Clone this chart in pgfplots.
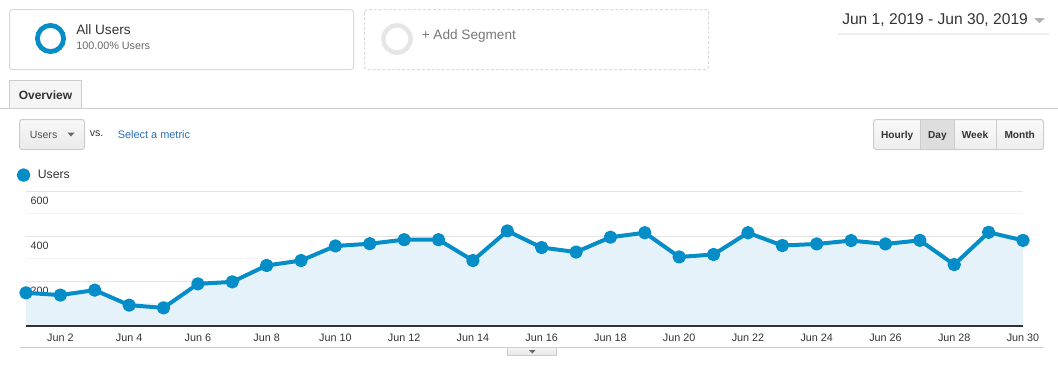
\documentclass[border=0pt]{standalone}
\usepackage{fontspec}
\setmainfont{Liberation Sans}
\usepackage{pgfplots}
\usepackage{pgfplotstable}
\pgfplotsset{compat=1.18}
\definecolor{gablue}{HTML}{058DC7}
\definecolor{gafill}{HTML}{E6F2F9}
\definecolor{gridmajor}{HTML}{E3E3E3}
\definecolor{gridminor}{HTML}{F3F3F3}
\definecolor{axisdark}{HTML}{333333}
\definecolor{txt}{HTML}{333333}
\definecolor{txtgray}{HTML}{666666}
\definecolor{txtlight}{HTML}{777777}
\definecolor{linkblue}{HTML}{2A6EBB}
\definecolor{border}{HTML}{DADADA}
\definecolor{btnborder}{HTML}{CCCCCC}
\definecolor{btnfill}{HTML}{F5F5F5}
\definecolor{pressed}{HTML}{DEDEDE}
\definecolor{ringgray}{HTML}{E6E6E6}

\pgfplotstableread{
day users
1 148
2 138
3 160
4 93
5 81
6 188
7 197
8 270
9 292
10 357
11 367
12 385
13 385
14 292
15 424
16 350
17 330
18 396
19 416
20 308
21 319
22 416
23 359
24 366
25 381
26 366
27 382
28 274
29 418
30 382
}\usersdata

\begin{document}
\begin{tikzpicture}
\begin{scope}[x=0.75pt,y=-0.75pt]
\path[use as bounding box] (0,0) rectangle (1058,371);
% segment card
\draw[border, line width=0.75pt, rounded corners=2pt] (9.5,9.5) rectangle (353.5,69.5);
\draw[gablue, line width=3.6pt] (50.5,38.5) circle[radius=9.8pt];
\node[anchor=base west, inner sep=0pt, text=txt, font=\fontsize{10.2}{12}\selectfont] at (76,35) {All Users};
\node[anchor=base west, inner sep=0pt, text=txtgray, font=\fontsize{8.1}{10}\selectfont] at (76,49.5) {100.00\% Users};
% add segment
\draw[border, line width=0.75pt, dash pattern=on 2.2pt off 1.5pt, rounded corners=2pt] (364.5,9.5) rectangle (708.5,69.5);
\draw[ringgray, line width=3.4pt] (397,39) circle[radius=10.2pt];
\node[anchor=base west, inner sep=0pt, text=txtlight, font=\fontsize{10.2}{12}\selectfont] at (421.5,40) {+ Add Segment};
% date range
\node[anchor=base west, inner sep=0pt, text=txt, font=\fontsize{11.7}{14}\selectfont] at (842,25) {Jun 1, 2019 - Jun 30, 2019};
\fill[gray!60] (1034,18) -- (1045,18) -- (1039.5,23) -- cycle;
\draw[gray!15, line width=1.5pt] (838,33.5) -- (1049,33.5);
% tab
\draw[btnborder, line width=0.75pt] (0,108) -- (1058,108);
\draw[btnborder, line width=0.75pt, fill=btnfill] (9.5,108) -- (9.5,80.5) -- (81.5,80.5) -- (81.5,108);
\node[anchor=base, inner sep=0pt, text=txt, font=\bfseries\fontsize{9}{11}\selectfont] at (45.5,99.3) {Overview};
% metric dropdown
\draw[btnborder, line width=0.75pt, top color=white!97!black, bottom color=white!92!black, rounded corners=2pt] (19.5,119.5) rectangle (84.5,149.5);
\node[anchor=base west, inner sep=0pt, text=txtgray!80!black, font=\fontsize{7.9}{10}\selectfont] at (29.5,138.3) {Users};
\fill[txtgray] (67.5,132.5) -- (74.5,132.5) -- (71,136.5) -- cycle;
\node[anchor=base west, inner sep=0pt, text=txt, font=\fontsize{8}{10}\selectfont] at (89.5,136.5) {vs.};
\node[anchor=base west, inner sep=0pt, text=linkblue, font=\fontsize{8.2}{10}\selectfont] at (117.5,138.3) {Select a metric};
% period buttons
\draw[btnborder, line width=0.75pt, top color=white!98!black, bottom color=white!93!black, rounded corners=2pt] (873.5,119.5) rectangle (1043.5,149.5);
\fill[pressed] (920.8,120) rectangle (954,149);
\draw[btnborder, line width=0.75pt] (920.8,119.5) -- (920.8,149.5) (954,119.5) -- (954,149.5) (996,119.5) -- (996,149.5);
\begin{scope}[every node/.style={anchor=base, inner sep=0pt, text=txt, font=\bfseries\fontsize{7.6}{9}\selectfont}]
\node at (897.2,138.3) {Hourly};
\node at (937.4,138.3) {Day};
\node at (975,138.3) {Week};
\node at (1019.7,138.3) {Month};
\end{scope}
% bottom bar
\draw[btnborder, line width=1.1pt] (20,347.3) -- (1043,347.3);
\draw[btnborder, line width=0.75pt, top color=white!96!black, bottom color=white!90!black] (507.3,347.3) rectangle (556.7,355.7);
\fill[txtgray] (529,350) -- (535.6,350) -- (532.3,353.5) -- cycle;
\end{scope}
\begin{axis}[
  at={(19.5pt,-244.5pt)}, anchor=south west,
  width=747.75pt, height=100.875pt, scale only axis,
  xmin=1, xmax=30, ymin=0, ymax=600,
  enlargelimits=false, clip=false,
  axis line style={draw=none},
  tick style={draw=none},
  major tick length=0pt, minor tick length=0pt,
  xtick={2,4,...,30},
  xticklabels={Jun 2,Jun 4,Jun 6,Jun 8,Jun 10,Jun 12,Jun 14,Jun 16,Jun 18,Jun 20,Jun 22,Jun 24,Jun 26,Jun 28,Jun 30},
  ytick={200,400,600},
  minor ytick={100,300,500},
  ymajorgrids, yminorgrids,
  major grid style={draw=gridmajor, line width=0.75pt},
  minor grid style={draw=gridminor, line width=0.75pt},
  /pgf/number format/assume math mode=true,
  xticklabel style={font=\fontsize{8.1}{10}\selectfont, text=txt, yshift=-2.5pt},
  yticklabel style={font=\fontsize{8}{10}\selectfont, text=txt, anchor=north west, xshift=0pt, yshift=-1pt},
  legend style={at={(-0.0095,1.122)}, anchor=west, draw=none, fill=none, inner sep=0pt,
    font=\fontsize{9.2}{11}\selectfont, text=txt},
  legend cell align=left,
  legend image code/.code={\fill[gablue] (0.1cm,0pt) circle (3.6pt); \path (10pt,0pt);},
]
\addplot[fill=gafill, draw=none, forget plot] table[x=day, y=users] {\usersdata} \closedcycle;
\draw[axisdark, line width=1.1pt] (axis cs:1,0) -- (axis cs:30,0);
\addplot[gablue, line width=3pt, line join=round, mark=*, mark size=3.5pt,
  mark options={solid, fill=gablue, draw=none}]
  table[x=day, y=users] {\usersdata};
\addlegendentry{Users}
\end{axis}
\end{tikzpicture}
\end{document}
